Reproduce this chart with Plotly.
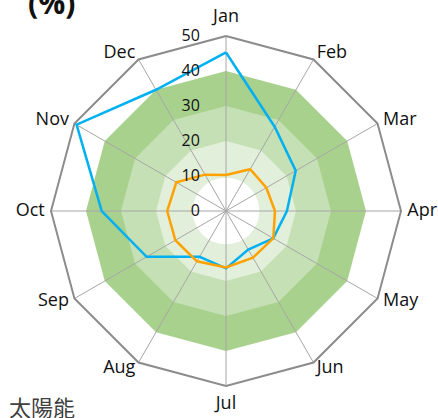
import numpy as np
import plotly.graph_objects as go

months = ["Jan", "Feb", "Mar", "Apr", "May", "Jun",
          "Jul", "Aug", "Sep", "Oct", "Nov", "Dec"]
series_blue = [45.3, 27.8, 23.0, 17.4, 15.6, 12.7, 16.4, 15.1, 26.2, 35.5, 49.3, 40.0]
series_orange = [10.3, 13.8, 13.3, 14.0, 15.6, 15.4, 16.1, 16.6, 16.7, 16.8, 16.4, 12.0]
radial_ticks = [0, 10, 20, 30, 40, 50]
band_levels = [40, 30, 20]
band_colors = ["#a9d18e", "#c5e0b4", "#e2efda"]
inner_white_r = 9.5
label_r_side = 51.8
label_r_vert = 52.8
range_max = 57

angles = [i * 30 for i in range(len(months))]
closed_angles = angles + [angles[0]]
rmax = radial_ticks[-1]
label_positions = ["top center"] + ["middle right"] * 5 + ["bottom center"] + ["middle left"] * 5
label_radii = [label_r_vert if "center" in p else label_r_side for p in label_positions]

# geometry (pixels): centre and radius of the 50% ring
W, H = 438, 418
cx, cy, R50 = 226, 211, 175
Rdom = R50 * range_max / rmax

fig = go.Figure()

# bands
for lvl, col in zip(band_levels, band_colors):
    fig.add_trace(go.Scatterpolar(
        r=[lvl] * len(closed_angles), theta=closed_angles,
        mode="lines", fill="toself", fillcolor=col,
        line=dict(color=col, width=0), hoverinfo="skip", showlegend=False))

circ_t = list(np.linspace(0, 360, 73))
fig.add_trace(go.Scatterpolar(
    r=[inner_white_r] * len(circ_t), theta=circ_t,
    mode="lines", fill="toself", fillcolor="white",
    line=dict(color="white", width=0), hoverinfo="skip", showlegend=False))

# spokes
sr, st = [], []
for a in angles:
    sr += [0, rmax, None]
    st += [a, a, None]
fig.add_trace(go.Scatterpolar(
    r=sr, theta=st, mode="lines",
    line=dict(color="#a6a6a6", width=1), hoverinfo="skip", showlegend=False))

# outer polygon
fig.add_trace(go.Scatterpolar(
    r=[rmax] * len(closed_angles), theta=closed_angles, mode="lines",
    line=dict(color="#8c8c8c", width=2), hoverinfo="skip", showlegend=False))

fig.add_trace(go.Scatterpolar(
    r=series_blue + [series_blue[0]], theta=closed_angles, mode="lines",
    line=dict(color="#00b0f0", width=2.5), showlegend=False))
fig.add_trace(go.Scatterpolar(
    r=series_orange + [series_orange[0]], theta=closed_angles, mode="lines",
    line=dict(color="#ffa200", width=2.5), showlegend=False))

# month labels
fig.add_trace(go.Scatterpolar(
    r=label_radii, theta=angles, mode="text", text=months,
    textposition=label_positions, cliponaxis=False,
    textfont=dict(family="Open Sans", size=18, color="#111111"),
    hoverinfo="skip", showlegend=False))

fig.update_layout(
    width=W, height=H,
    margin=dict(l=0, r=0, t=0, b=0),
    paper_bgcolor="white",
    showlegend=False,
    polar=dict(
        domain=dict(x=[(cx - Rdom) / W, (cx + Rdom) / W],
                    y=[1 - (cy + Rdom) / H, 1 - (cy - Rdom) / H]),
        bgcolor="rgba(0,0,0,0)",
        angularaxis=dict(
            rotation=90, direction="clockwise",
            tickmode="array", tickvals=angles, ticktext=months,
            showgrid=False, showline=False, showticklabels=False, ticks=""),
        radialaxis=dict(
            range=[0, range_max], tickmode="array", tickvals=radial_ticks,
            angle=90, side="counterclockwise",
            showgrid=False, showline=False,
            ticks="outside", ticklen=20, tickcolor="rgba(0,0,0,0)",
            tickfont=dict(family="Open Sans", size=16, color="#111111"),
            tickangle=90,
            layer="above traces"),
    ),
    annotations=[
        dict(text="<b>(%)</b>", x=51 / W, y=1 - 3 / H, xref="paper", yref="paper",
             xanchor="center", yanchor="middle", showarrow=False,
             font=dict(family="Open Sans", size=30, color="#111111")),
        dict(text="太陽能", x=42 / W, y=1 - 406 / H, xref="paper", yref="paper",
             xanchor="center", yanchor="middle", showarrow=False,
             font=dict(family="Noto Sans CJK TC", size=22, color="#404040")),
    ],
)

fig.write_html("out.html", config={"displayModeBar": False},
               post_script="document.body.style.margin='0';")
